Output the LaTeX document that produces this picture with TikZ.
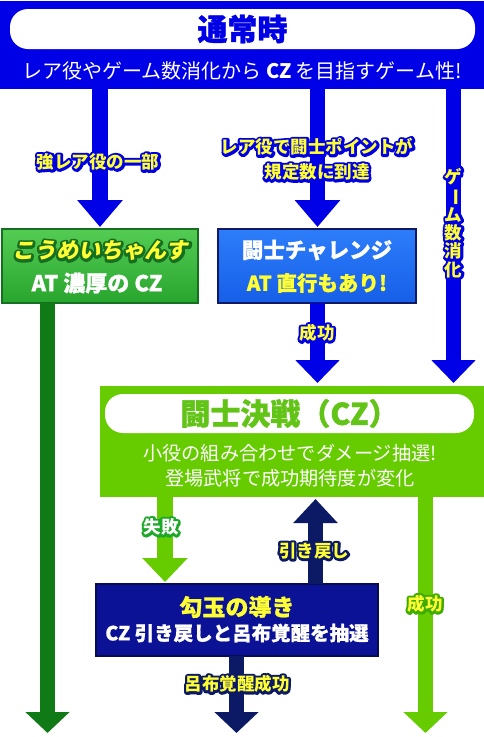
\documentclass[tikz,border=0pt]{standalone}
\usepackage{fontspec}
\usetikzlibrary{arrows.meta}
\newfontfamily\jp{Noto Sans CJK JP}
\newfontfamily\jpsl{Noto Sans CJK JP}[FakeSlant=0.22]
\definecolor{cblue}{RGB}{0,0,230}
\definecolor{cyellow}{RGB}{255,255,51}
\definecolor{kgtop}{RGB}{84,204,84}
\definecolor{kgbot}{RGB}{40,165,45}
\definecolor{kgborder}{RGB}{22,110,32}
\definecolor{dkgreen}{RGB}{15,122,22}
\definecolor{tbtop}{RGB}{45,125,250}
\definecolor{tbbot}{RGB}{22,95,232}
\definecolor{tbborder}{RGB}{15,25,100}
\definecolor{cgreen}{RGB}{102,204,0}
\definecolor{czgreen}{RGB}{98,196,22}
\definecolor{mnavy}{RGB}{12,18,150}
\definecolor{mborder}{RGB}{6,12,80}
\definecolor{anavy}{RGB}{12,26,102}
\definecolor{olgreen}{RGB}{30,168,40}
\definecolor{olgreen2}{RGB}{62,172,0}
\newcommand\fsz[1]{\fontsize{#1}{#1}\selectfont}
% heavier text: fill and stroke in the same colour
\newcommand\emb[2]{\special{pdf:literal 2 Tr #1 w 1 j}#2\special{pdf:literal 0 Tr}}
% outlined text: stroked copy beneath, filled copy on top
\newcommand\olt[3]{\rlap{\color{#1}\special{pdf:literal 1 Tr #2 w 1 j}#3\special{pdf:literal 0 Tr}}#3}
\begin{document}
\begin{tikzpicture}[x=1pt,y=-1pt,
  boxshape/.style={inner sep=0pt,outer sep=0pt,minimum width=#1},
  lbl/.style={inner sep=0pt,outer sep=0pt,font=\jp\bfseries\fsz{17.5},text=cyellow,align=center},
  intext/.style={inner sep=0pt,outer sep=0pt,font=\jp\bfseries,align=center},
  stem/.style={line width=15.5pt},
  hdA/.style={-{Triangle[width=44pt,length=27pt]}},
  hdB/.style={-{Triangle[width=43pt,length=23pt]}},
  hdC/.style={-{Triangle[width=43pt,length=21pt]}}]
\useasboundingbox (0,0) rectangle (484,737);
\fill[white] (0,0) rectangle (484,737);
% x positions of the connectors
\coordinate (xa) at (100,0);
\coordinate (xb) at (317.5,0);
\coordinate (xc) at (453.5,0);
\coordinate (xd) at (47.5,0);
\coordinate (xe) at (165,0);
\coordinate (xf) at (315.5,0);
\coordinate (xg) at (425.5,0);
\coordinate (xh) at (236.5,0);
\coordinate (bot) at (0,733);
% boxes
\node[boxshape=484, minimum height=88, fill=cblue] (top) at (242,45) {};
\node[boxshape=465, minimum height=40, fill=white, rounded corners=18pt,
      font=\jp\bfseries\fsz{30}, text=cblue] (ttl) at (242.5,29) {\emb{0.4}{通常時}};
\node[intext, font=\jp\fsz{20}, text=white] (sub) at (242,71)
      {レア役やゲーム数消化から \textbf{CZ} を目指すゲーム性!};
\node[boxshape=196, minimum height=74, top color=kgtop, bottom color=kgbot,
      draw=kgborder, line width=2pt] (kou) at (100,266) {};
\node[boxshape=198, minimum height=74, top color=tbtop, bottom color=tbbot,
      draw=tbborder, line width=2pt] (tou) at (317,266) {};
\node[boxshape=384, minimum height=111, fill=cgreen] (cz) at (292,441.5) {};
\node[boxshape=369, minimum height=39, fill=white, rounded corners=18pt,
      font=\jp\bfseries\fsz{30}, text=czgreen] (czt) at (289.5,413.5) {\emb{0.35}{闘士決戦（CZ）}};
\node[boxshape=282, minimum height=72, fill=mnavy, draw=mborder, line width=1.5pt] (mag) at (237,620) {};
% texts inside boxes
\node[intext, font=\jpsl\bfseries\fsz{22}, text=cyellow] (kou1) at (100,251)
      {\olt{kgborder}{5}{こうめいちゃんす}};
\node[intext, font=\jp\bfseries\fsz{22}, text=white] (kou2) at (97,283) {\emb{0.2}{AT 濃厚の CZ}};
\node[intext, font=\jp\bfseries\fsz{21.5}, text=white] (tou1) at (317,250) {\emb{0.2}{闘士チャレンジ}};
\node[intext, font=\jp\bfseries\fsz{20.5}, text=cyellow] (tou2) at (317,283) {\emb{0.2}{AT 直行もあり!}};
\node[intext, font=\jp\fontsize{19.2}{25}\selectfont, text=white] (czb) at (290,465.5)
      {小役の組み合わせでダメージ抽選!\\登場武将で成功期待度が変化};
\node[intext, font=\jp\bfseries\fsz{23}, text=cyellow] (mag1) at (237,607) {\emb{0.2}{勾玉の導き}};
\node[intext, font=\jp\bfseries\fsz{19.5}, text=white] (mag2) at (237,633) {\emb{0.15}{CZ 引き戻しと呂布覚醒を抽選}};
% connectors
\draw[stem, cblue, hdA] (top.south -| xa) -- ([yshift=2pt]kou.north -| xa);
\draw[stem, cblue, hdA] (top.south -| xb) -- ([yshift=2pt]tou.north -| xb);
\draw[stem, cblue, hdB] (top.south -| xc) -- ([yshift=3pt]cz.north -| xc);
\draw[stem, cblue, hdB] (tou.south -| xb) -- ([yshift=3pt]cz.north -| xb);
\draw[stem, dkgreen, hdC] (kou.south -| xd) -- (bot -| xd);
\draw[stem, cgreen, {-Triangle[width=44pt,length=24pt]}] (cz.south -| xe) -- ([yshift=2pt]mag.north -| xe);
\draw[stem, anavy, {-Triangle[width=43pt,length=24pt]}] (mag.north -| xf) -- ([yshift=-2pt]cz.south -| xf);
\draw[stem, cgreen, hdC] (cz.south -| xg) -- (bot -| xg);
\draw[stem, anavy, hdC] (mag.south -| xh) -- (bot -| xh);
% connector labels
\node[lbl] (l1) at (98,162) {\olt{cblue}{5}{強レア役の一部}};
\node[lbl, font=\jp\bfseries\fontsize{17.5}{25}\selectfont] (l2) at (317,159.5)
      {\olt{cblue}{5}{レア役で闘士ポイントが}\\\olt{cblue}{5}{規定数に到達}};
\node[lbl, font=\jp\bfseries\fontsize{17.5}{18.3}\selectfont] (l3) at (453.5,223)
      {\olt{cblue}{5}{ゲ}\\\rotatebox[origin=c]{-90}{\olt{cblue}{5}{ー}}\\\olt{cblue}{5}{ム}\\\olt{cblue}{5}{数}\\\olt{cblue}{5}{消}\\\olt{cblue}{5}{化}};
\node[lbl] (l4) at (317,333) {\olt{cblue}{5}{成功}};
\node[lbl, text=white] (l5) at (161,527) {\olt{olgreen}{5}{失敗}};
\node[lbl] (l6) at (314,551) {\olt{anavy}{5}{引き戻し}};
\node[lbl] (l7) at (425,604) {\olt{olgreen2}{5}{成功}};
\node[lbl] (l8) at (237,684) {\olt{anavy}{5}{呂布覚醒成功}};
\end{tikzpicture}
\end{document}
